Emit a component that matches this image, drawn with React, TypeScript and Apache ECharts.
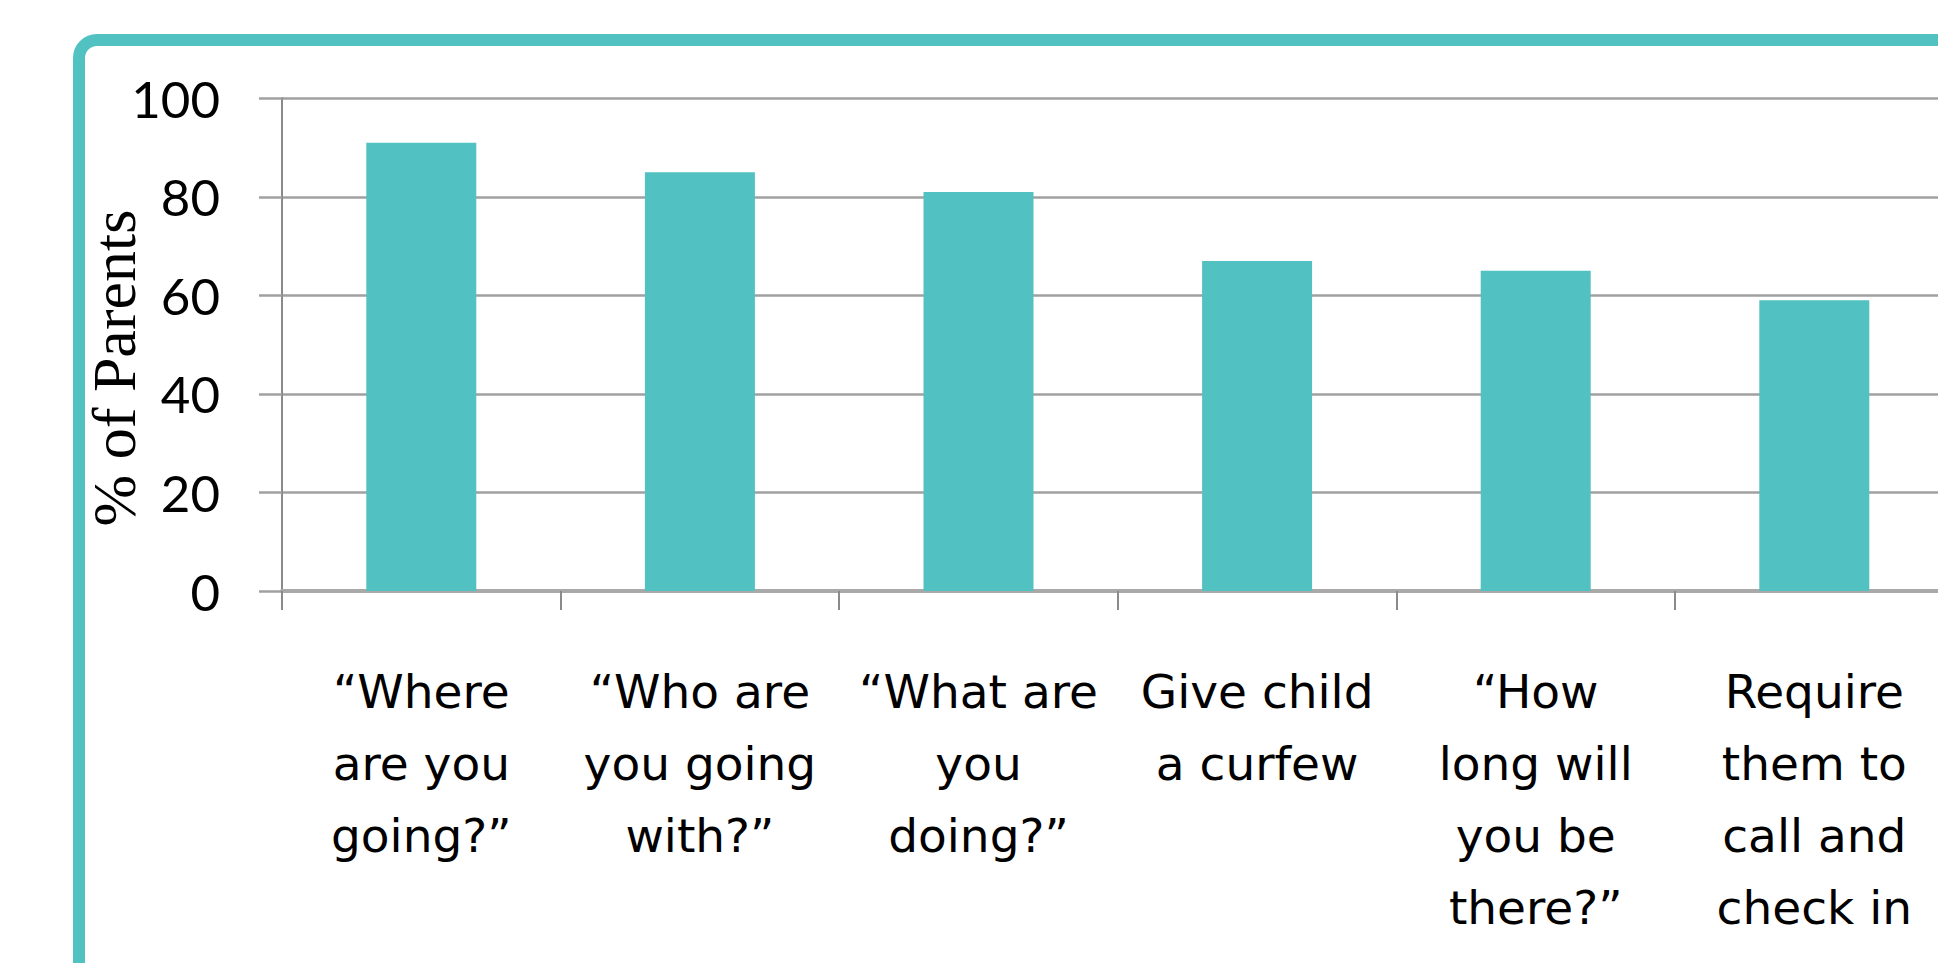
import React, { useEffect, useRef } from "react";
import * as echarts from "echarts";

const categories: string[] = [
  "“Where\nare you\ngoing?”",
  "“Who are\nyou going\nwith?”",
  "“What are\nyou\ndoing?”",
  "Give child\na curfew",
  "“How\nlong will\nyou be\nthere?”",
  "Require\nthem to\ncall and\ncheck in",
];
const values: number[] = [91, 85, 81, 67, 65, 59];
const yMin = 0;
const yMax = 100;
const yStep = 20;
const yAxisTitle = "% of Parents";

const TEAL = "#52c1c2";

export default function App() {
  const ref = useRef<HTMLDivElement>(null);
  useEffect(() => {
    const chart = echarts.init(ref.current!, null, { renderer: "svg" });
    chart.setOption({
      animation: false,
      backgroundColor: "#ffffff",
      graphic: [
        {
          type: "rect",
          shape: { x: 79, y: 40, width: 3000, height: 3000, r: 18 },
          style: { fill: "none", stroke: TEAL, lineWidth: 12 },
          z: 0,
        },
        {
          type: "text",
          x: 114,
          y: 368,
          rotation: Math.PI / 2,
          style: {
            text: yAxisTitle,
            fontFamily: "Liberation Serif",
            fontSize: 62,
            fill: "#000000",
            textAlign: "center",
            textVerticalAlign: "middle",
          },
          z: 5,
        },
      ],
      grid: {
        left: 282,
        top: 98.3,
        width: 1671.6,
        height: 492.7,
        containLabel: false,
        outerBoundsMode: "none",
      },
      xAxis: {
        type: "category",
        data: categories,
        boundaryGap: true,
        axisLine: { show: true, lineStyle: { color: "#a9a9a9", width: 4 } },
        axisTick: {
          show: true,
          alignWithLabel: false,
          interval: 0,
          length: 19,
          lineStyle: { color: "#8a8a8a", width: 2 },
        },
        axisLabel: {
          interval: 0,
          margin: 64,
          fontFamily: "DejaVu Sans",
          fontSize: 47,
          lineHeight: 72,
          color: "#000000",
          align: "center",
        },
        splitLine: { show: false },
      },
      yAxis: {
        type: "value",
        min: yMin,
        max: yMax,
        interval: yStep,
        axisLine: { show: true, lineStyle: { color: "#8a8a8a", width: 2 } },
        axisTick: { show: true, length: 23, lineStyle: { color: "#a0a0a0", width: 2.5 } },
        axisLabel: {
          margin: 62,
          fontFamily: "Lato",
          fontSize: 51,
          color: "#000000",
        },
        splitLine: { show: true, lineStyle: { color: "#a0a0a0", width: 2.5 } },
      },
      series: [
        {
          type: "bar",
          data: values,
          barWidth: 110,
          itemStyle: { color: TEAL },
        },
      ],
    });
    return () => chart.dispose();
  }, []);
  return (
    <div
      style={{
        position: "fixed",
        left: 0,
        top: 0,
        width: 1938,
        height: 963,
        overflow: "hidden",
        background: "#ffffff",
      }}
    >
      <div ref={ref} style={{ width: 2000, height: 963 }} />
    </div>
  );
}
